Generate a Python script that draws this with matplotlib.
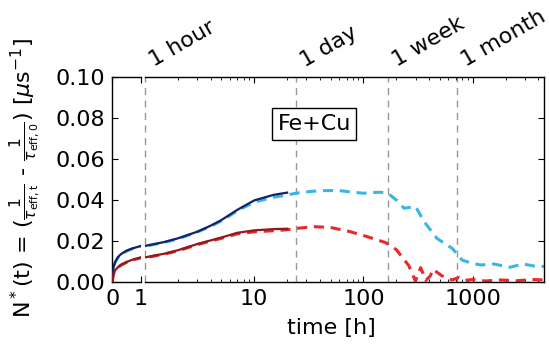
import numpy as np
import matplotlib
matplotlib.use("Agg")
import matplotlib.pyplot as plt
import matplotlib.transforms as mtransforms

# --- data (time in hours) ---
t_solid = [0, 0.02, 0.05, 0.1, 0.2, 0.3, 0.5, 0.7, 1,
           1.5, 2, 3, 4, 5, 7, 10, 15, 20]
fecu_solid = [0, 0.0045, 0.0075, 0.0098, 0.0122, 0.0136, 0.0153, 0.0164, 0.0176,
              0.0195, 0.0213, 0.0245, 0.0275, 0.0302, 0.0352, 0.0398, 0.0425, 0.0436]
fe_solid = [0, 0.0025, 0.0042, 0.0057, 0.0073, 0.0084, 0.0098, 0.0109, 0.012,
            0.0138, 0.0155, 0.0185, 0.0203, 0.0217, 0.024, 0.0252, 0.0258, 0.026]

t_cyan = [0, 0.02, 0.05, 0.1, 0.2, 0.3, 0.5, 0.7, 1,
          1.5, 2, 3, 4, 5, 7, 10, 15, 20, 26, 35, 45, 60, 80, 100,
          140, 165, 200, 235, 300, 360, 470, 650, 800, 1000, 1200,
          1550, 2200, 2900, 3900, 4500]
cyan = [0, 0.0044, 0.0074, 0.0097, 0.012, 0.0134, 0.0151, 0.0162, 0.0174,
        0.0193, 0.021, 0.0243, 0.0272, 0.0298, 0.0347, 0.039, 0.0413, 0.0425,
        0.0436, 0.0443, 0.0446, 0.0446, 0.0438, 0.0433, 0.0438, 0.0435, 0.040,
        0.036, 0.0368, 0.0294, 0.0213, 0.0164, 0.0107, 0.009, 0.0083,
        0.0088, 0.0072, 0.0088, 0.0075, 0.0076]

t_red = [0, 0.02, 0.05, 0.1, 0.2, 0.3, 0.5, 0.7, 1,
         1.5, 2, 3, 4, 5, 7, 10, 15, 20, 25, 35, 50, 75, 110, 160, 200,
         260, 299, 334, 373, 410, 433, 523, 647, 750, 850, 1000, 1300,
         1800, 2500, 3500, 4500]
red = [0, 0.0024, 0.0041, 0.0056, 0.0071, 0.0082, 0.0096, 0.0107, 0.0118,
       0.0136, 0.0152, 0.0182, 0.02, 0.0213, 0.0235, 0.0245, 0.025, 0.0255,
       0.0262, 0.027, 0.0266, 0.0246, 0.022, 0.0192, 0.0158,
       0.008, 0.0005, 0.007, 0.0008, 0.003, 0.0062, 0.003, 0.001, 0.0022,
       0.0008, 0.0012, 0.0005, 0.001, 0.0006, 0.0012, 0.001]

marks = [1, 24, 168, 720]
mark_labels = ["1 hour", "1 day", "1 week", "1 month"]

plt.rcParams['font.family'] = ['DejaVu Sans']
plt.rcParams['mathtext.fontset'] = 'dejavusans'
FS = 16

fig = plt.figure(figsize=(5.49, 3.45), dpi=100)
fig.patch.set_facecolor('white')

bottom, height = 0.1826, 0.5942
ax1 = fig.add_axes([0.2046, bottom, 0.0523, height])
ax2 = fig.add_axes([0.2641, bottom, 0.7268, height], sharey=ax1)

C_CYAN = '#38b6e6'
C_RED = '#e8282b'
C_NAVY = '#14206a'
C_DRED = '#8e1a1e'

for ax in (ax1, ax2):
    ax.plot(t_cyan, cyan, color=C_CYAN, lw=2.2, dashes=[3.3, 2.2], zorder=2)
    ax.plot(t_red, red, color=C_RED, lw=2.2, dashes=[3.3, 2.2], zorder=2)
    ax.plot(t_solid, fecu_solid, color=C_NAVY, lw=1.6, zorder=3)
    ax.plot(t_solid, fe_solid, color=C_DRED, lw=1.6, zorder=3)
    ax.tick_params(direction='in', labelsize=FS, length=4, width=0.8, pad=5)
    for s in ax.spines.values():
        s.set_linewidth(1.0)

ax1.set_xlim(0, 1)
ax1.set_ylim(0, 0.10)
ax1.set_xticks([0, 1])
ax1.set_xticklabels(["0", "1"])
ax1.set_yticks(np.arange(0, 0.101, 0.02))
ax1.set_yticklabels([f"{v:.2f}" for v in np.arange(0, 0.101, 0.02)])
ax1.spines['right'].set_visible(False)
ax1.tick_params(axis='y', right=False, left=True)
ax1.tick_params(axis='x', top=True)

ax2.set_xscale('log')
ax2.set_xlim(1, 4500)
ax2.set_xticks([10, 100, 1000])
ax2.set_xticklabels(["10", "100", "1000"])
ax2.spines['left'].set_visible(False)
ax2.tick_params(axis='y', left=False, right=True, labelleft=False)
ax2.tick_params(axis='x', which='both', top=True, direction='in')
ax2.tick_params(axis='x', which='minor', length=2)

trans = mtransforms.blended_transform_factory(ax2.transData, ax2.transAxes)
for xv, lab in zip(marks, mark_labels):
    ax2.axvline(xv, color='#999999', lw=1.0, ls=(0, (5, 4)), zorder=1, clip_on=False)
    ax2.text(xv * 1.03, 1.03, lab, transform=trans, rotation=30, ha='left', va='bottom',
             fontsize=FS, clip_on=False)

ax2.text(0.424, 0.771, "Fe+Cu", transform=ax2.transAxes, ha='center', va='center',
         fontsize=FS, bbox=dict(boxstyle='square,pad=0.25', facecolor='white',
                                edgecolor='black', lw=1.0))

fig.text(0.603, 0.05, "time [h]", ha='center', va='center', fontsize=FS)
fig.text(0.045, 0.484,
         r"N$^*$(t) = ($\frac{1}{\tau_{\rm eff,t}}$ - $\frac{1}{\tau_{\rm eff,0}}$) [$\mu$s$^{-1}$]",
         rotation=90, ha='center', va='center', fontsize=FS)

fig.savefig("out.png", dpi=100, facecolor='white')
